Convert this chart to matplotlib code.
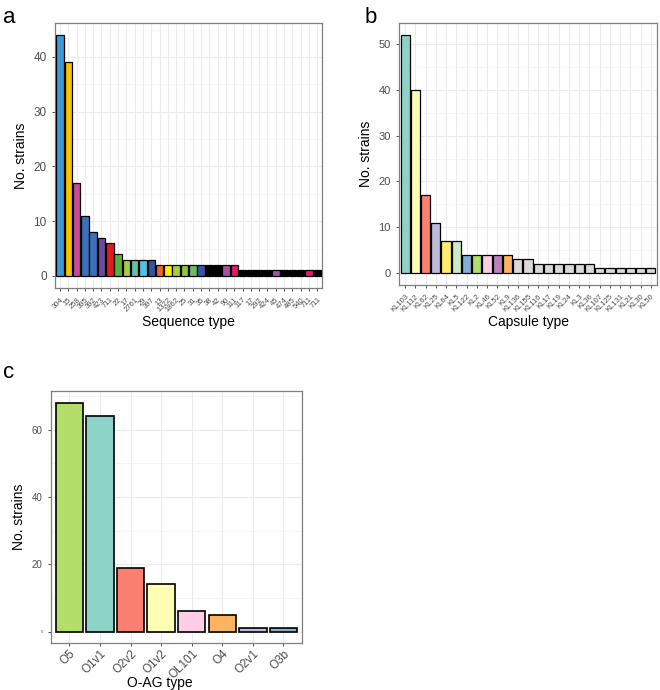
import numpy as np
import matplotlib
matplotlib.use("Agg")
import matplotlib.pyplot as plt
from matplotlib.ticker import MultipleLocator

plt.rcParams['font.family'] = ['Liberation Sans', 'DejaVu Sans']

# Panel a: sequence types
st_labels = ["304", "15", "258", "395", "392", "423", "711", "22", "17", "2761",
             "29", "397", "13", "1322", "1862", "25", "31", "35", "38", "42",
             "90", "111", "117", "17", "292", "424", "45", "474", "485", "540",
             "711", "711"]
st_counts = [44, 39, 17, 11, 8, 7, 6, 4, 3, 3, 3, 3, 2, 2, 2, 2, 2, 2, 2, 2,
             2, 2, 1, 1, 1, 1, 1, 1, 1, 1, 1, 1]
st_colors = ["#3C9AD6", "#F5C400", "#C94A9B", "#3C70B8", "#3C70B8", "#6A4C9C",
             "#E41A1C", "#5AB03C", "#A6CE39", "#66C2A5", "#4FC3E3", "#3953A4",
             "#F26522", "#FFED00", "#A6CE39", "#8DC63F", "#6ABD6E", "#3953A4",
             "#000000", "#000000", "#A1559E", "#E5176E", "#000000", "#000000",
             "#000000", "#000000", "#A1559E", "#000000", "#000000", "#000000",
             "#E5176E", "#000000"]

# Panel b: capsule types
kl_labels = ["KL103", "KL112", "KL62", "KL25", "KL64", "KL5", "KL122", "KL2",
             "KL46", "KL52", "KL9", "KL136", "KL155", "KL116", "KL17", "KL19",
             "KL24", "KL3", "KL36", "KL107", "KL125", "KL131", "KL21", "KL30",
             "KL50"]
kl_counts = [52, 40, 17, 11, 7, 7, 4, 4, 4, 4, 4, 3, 3, 2, 2, 2, 2, 2, 2,
             1, 1, 1, 1, 1, 1]
kl_colors = ["#8DD3C7", "#FFFFB3", "#FB8072", "#BEBADA", "#FFED6F", "#CCEBC5",
             "#80B1D3", "#B3DE69", "#FCCDE5", "#BC80BD", "#FDB462"] + ["#D9D9D9"] * 14

# Panel c: O-antigen types
o_labels = ["O5", "O1v1", "O2v2", "O1v2", "OL101", "O4", "O2v1", "O3b"]
o_counts = [68, 64, 19, 14, 6, 5, 1, 1]
o_colors = ["#B3DE69", "#8DD3C7", "#FB8072", "#FFFFB3", "#FCCDE5", "#FDB462",
            "#BEBADA", "#80B1D3"]


def style_axes(ax, n, ymax, major, minor):
    ax.set_facecolor("white")
    ax.set_xlim(0.4, n + 0.6)
    ax.set_ylim(-0.05 * ymax, 1.05 * ymax)
    ax.yaxis.set_major_locator(MultipleLocator(major))
    ax.yaxis.set_minor_locator(MultipleLocator(minor))
    ax.grid(True, which="major", color="#EBEBEB", linewidth=0.8, zorder=0)
    ax.grid(True, which="minor", axis="y", color="#F2F2F2", linewidth=0.5, zorder=0)
    ax.set_axisbelow(True)
    for s in ax.spines.values():
        s.set_color("#7F7F7F")
        s.set_linewidth(0.9)
    ax.tick_params(axis="both", colors="#333333", length=2.5, width=0.6,
                   labelcolor="#4D4D4D")
    ax.tick_params(axis="y", which="minor", length=0)


fig = plt.figure(figsize=(6.6, 6.9), dpi=100)

# a
ax1 = fig.add_axes([0.0833, 0.5826, 0.405, 0.384])
x1 = np.arange(1, len(st_counts) + 1)
ax1.bar(x1, st_counts, width=0.9, color=st_colors, edgecolor="black",
        linewidth=0.9, zorder=3)
style_axes(ax1, len(st_counts), max(st_counts), 10, 5)
ax1.set_xticks(x1)
ax1.set_xticklabels(st_labels, rotation=45, ha="right", fontsize=5.5,
                    rotation_mode="anchor")
ax1.tick_params(axis="y", labelsize=8.5)
ax1.set_ylabel("No. strains", fontsize=10)
ax1.set_xlabel("Sequence type", fontsize=10, labelpad=1)

# b
ax2 = fig.add_axes([0.6045, 0.587, 0.391, 0.3797])
x2 = np.arange(1, len(kl_counts) + 1)
ax2.bar(x2, kl_counts, width=0.9, color=kl_colors, edgecolor="black",
        linewidth=0.9, zorder=3)
style_axes(ax2, len(kl_counts), max(kl_counts), 10, 5)
ax2.set_xticks(x2)
ax2.set_xticklabels(kl_labels, rotation=45, ha="right", fontsize=5.5,
                    rotation_mode="anchor")
ax2.tick_params(axis="y", labelsize=8)
ax2.set_ylabel("No. strains", fontsize=10)
ax2.set_xlabel("Capsule type", fontsize=10, labelpad=1)

# c
ax3 = fig.add_axes([0.0773, 0.068, 0.380, 0.365])
x3 = np.arange(1, len(o_counts) + 1)
ax3.bar(x3, o_counts, width=0.9, color=o_colors, edgecolor="black",
        linewidth=1.2, zorder=3)
style_axes(ax3, len(o_counts), max(o_counts), 20, 10)
ax3.set_xticks(x3)
ax3.set_xticklabels(o_labels, rotation=45, ha="right", fontsize=8.5,
                    rotation_mode="anchor")
ax3.tick_params(axis="x", pad=1)
ax3.tick_params(axis="y", labelsize=7)
for t in ax3.get_yticklabels():
    if t.get_text() == "0":
        t.set_fontsize(3)
ax3.set_ylabel("No. strains", fontsize=10)
ax3.set_xlabel("O-AG type", fontsize=10)
ax3.xaxis.label.set_va("center")
ax3.xaxis.set_label_coords(0.434, -0.158)

fig.text(0.005, 0.975, "a", fontsize=16, va="center", ha="left")
fig.text(0.553, 0.975, "b", fontsize=16, va="center", ha="left")
fig.text(0.005, 0.46, "c", fontsize=16, va="center", ha="left")

fig.savefig("out.png", dpi=100)
